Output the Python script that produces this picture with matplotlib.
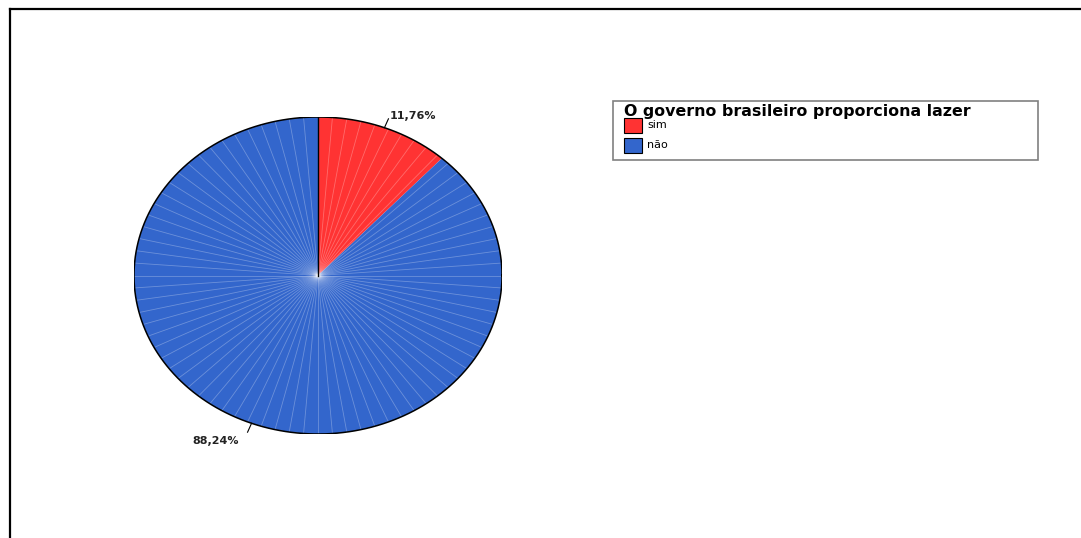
import matplotlib.pyplot as plt
import numpy as np
from matplotlib.lines import Line2D
from matplotlib.patches import Rectangle

labels = ['sim', 'não']
values = [11.76, 88.24]
colors = ['#FF3333', '#3366CC']
pct_text = ['11,76%', '88,24%']
legend_title = 'O governo brasileiro proporciona lazer'

plt.rcParams['font.family'] = ['DejaVu Sans']

W, H = 1081, 538
fig = plt.figure(figsize=(W / 100, H / 100), dpi=100)


def fx(px):
    return px / W


def fy(py):
    return 1 - py / H


# frame lines (left and top only, like the original export)
fig.add_artist(Line2D([fx(10), fx(10)], [0, fy(9)], color='black', lw=1.6))
fig.add_artist(Line2D([fx(10), 1], [fy(9), fy(9)], color='black', lw=1.6))

# elliptical pie: non-equal aspect axes
ax = fig.add_axes([fx(134), 1 - 434 / H, 368 / W, 317 / H])
wedges, _ = ax.pie(values, colors=colors, startangle=90, counterclock=False,
                   radius=1, wedgeprops=dict(linewidth=0))
ax.set_xlim(-1, 1)
ax.set_ylim(-1, 1)
ax.set_aspect('auto')
ax.axis('off')

# faint radial shading lines of the original render
for a in np.arange(0, 360, 4.5):
    t = np.deg2rad(a)
    ax.plot([0, np.cos(t)], [0, np.sin(t)], color='white', lw=0.6, alpha=0.28)

# outline
t = np.linspace(0, 2 * np.pi, 400)
ax.plot(np.cos(t), np.sin(t), color='black', lw=1.1)
ax.plot([0, 0], [0, 1], color='black', lw=1.0)

# percentage labels with leader lines
start = 90
offsets = [(0.516, 1.005), (-0.554, -1.044)]
for v, txt, (tx, ty) in zip(values, pct_text, offsets):
    ang = start - v / 100 * 360 / 2
    start -= v / 100 * 360
    r = np.deg2rad(ang)
    x0, y0 = np.cos(r), np.sin(r)
    ax.plot([x0, 1.06 * x0], [y0, 1.06 * y0], color='black', lw=0.8, clip_on=False)
    ax.text(tx, ty, txt, ha='center', va='center', fontsize=8, fontweight='bold',
            color='#222222', clip_on=False)

# legend drawn by hand to match the box of the original
fig.add_artist(Rectangle((fx(613), fy(160)), 425 / W, 59 / H, facecolor='white',
                         edgecolor='#808080', lw=1.2))
fig.text(fx(624), fy(116), legend_title, fontsize=11.4, fontweight='bold',
         ha='left', va='baseline', color='black')
for i, (lab, col) in enumerate(zip(labels, colors)):
    top = 118 + i * 20
    fig.add_artist(Rectangle((fx(624), fy(top + 15)), 18 / W, 15 / H,
                             facecolor=col, edgecolor='black', lw=0.8))
    fig.text(fx(647), fy(top + 7.5), lab, fontsize=8, ha='left', va='center',
             color='black')

fig.savefig('out.png', dpi=100)
